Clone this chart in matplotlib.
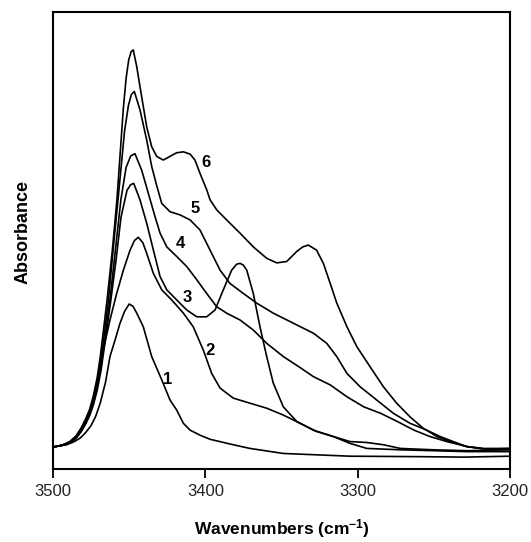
"""IR absorbance spectra, curves 1-6"""

import matplotlib
matplotlib.use("Agg")
import matplotlib.pyplot as plt

wn1 = [3500, 3491, 3486, 3482, 3478.5, 3475, 3472, 3469, 3465.5, 3462.6, 3459, 3456, 3453, 3450,
       3447.5, 3445, 3440.7, 3435.2, 3428.6, 3423.2, 3418.8, 3414.4, 3410, 3403.5, 3396.9, 3381.6,
       3370.7, 3348.8, 3305, 3260, 3230, 3200]
abs1 = [0.048, 0.053, 0.060, 0.068, 0.080, 0.095, 0.115, 0.144, 0.19, 0.246, 0.285, 0.319, 0.345,
        0.361, 0.356, 0.341, 0.311, 0.246, 0.195, 0.151, 0.129, 0.100, 0.085, 0.074, 0.065, 0.053,
        0.045, 0.034, 0.028, 0.027, 0.026, 0.028]

wn2 = [3500, 3494, 3489, 3485, 3481.5, 3478.5, 3476, 3473.5, 3471, 3467, 3462.6, 3458.2, 3453.8,
       3449.4, 3446.5, 3444, 3441, 3438.5, 3434.1, 3428.6, 3422.1, 3414.4, 3407.9, 3401.3, 3395.8,
       3390.3, 3381.6, 3370.7, 3359.7, 3348.8, 3337.8, 3326.9, 3315.9, 3305, 3294, 3283, 3272,
       3250, 3228, 3200]
abs2 = [0.048, 0.052, 0.057, 0.067, 0.082, 0.100, 0.122, 0.15, 0.19, 0.26, 0.326, 0.384, 0.435,
        0.479, 0.50, 0.507, 0.495, 0.472, 0.428, 0.392, 0.370, 0.341, 0.311, 0.260, 0.209,
        0.177, 0.155, 0.144, 0.133, 0.118, 0.100, 0.082, 0.071, 0.060, 0.058, 0.053, 0.045,
        0.042, 0.040, 0.042]

wn3 = [3500, 3494, 3489, 3485, 3481.5, 3478.5, 3476, 3473.5, 3471, 3468.5, 3465.5, 3462, 3458.5,
       3455.4, 3451.4, 3449, 3447, 3442.9, 3438.5, 3434.1, 3429.7, 3425.3, 3418.8, 3412.2, 3405.6,
       3399.1, 3393.6, 3388.2, 3382.7, 3379.5, 3377.2, 3375, 3372.8, 3368.5, 3364.1, 3359.7,
       3355.4, 3348.8, 3340, 3329.1, 3316, 3305, 3294, 3272, 3250, 3228, 3200]
abs3 = [0.048, 0.052, 0.058, 0.067, 0.082, 0.099, 0.116, 0.14, 0.172, 0.215, 0.285, 0.37, 0.46,
        0.55, 0.61, 0.622, 0.625, 0.589, 0.538, 0.479, 0.421, 0.392, 0.370, 0.348, 0.333,
        0.333, 0.348, 0.392, 0.435, 0.448, 0.450, 0.446, 0.435, 0.384, 0.311, 0.246,
        0.188, 0.136, 0.104, 0.085, 0.071, 0.056, 0.045, 0.042, 0.040, 0.038, 0.038]

wn4 = [3500, 3494, 3489, 3485, 3481.5, 3478.5, 3476, 3473.5, 3471, 3468.5, 3465.5, 3462.6, 3459,
       3455.4, 3452, 3449, 3446.2, 3441.8, 3437.4, 3433, 3429.7, 3425.3, 3418.8, 3412.2, 3405.6,
       3399.1, 3392.5, 3386, 3377.2, 3368.5, 3359.7, 3348.8, 3337.8, 3329, 3318, 3307, 3296,
       3285, 3274, 3263, 3252.5, 3241.5, 3228, 3215, 3200]
abs4 = [0.048, 0.052, 0.058, 0.068, 0.084, 0.102, 0.12, 0.145, 0.18, 0.225, 0.295, 0.37, 0.48,
        0.59, 0.66, 0.685, 0.69, 0.654, 0.603, 0.552, 0.516, 0.486, 0.465, 0.443, 0.414,
        0.384, 0.355, 0.341, 0.326, 0.304, 0.275, 0.246, 0.222, 0.202, 0.184, 0.158, 0.136,
        0.122, 0.104, 0.085, 0.071, 0.060, 0.049, 0.043, 0.043]

wn5 = [3500, 3494, 3489, 3485, 3481.5, 3478.5, 3476, 3473.5, 3471, 3469, 3466.5, 3463.6, 3460.5,
       3457.3, 3455, 3453, 3450.5, 3448.5, 3446.6, 3442.9, 3438.5, 3435.2, 3431.9, 3428.6, 3423.2,
       3416.6, 3410, 3403.5, 3396.9, 3390.3, 3383.8, 3375, 3366.3, 3355.4, 3342.2, 3329, 3320.3,
       3313.7, 3307, 3298.4, 3287.5, 3276.6, 3265.6, 3254.6, 3245.9, 3237.2, 3228.4, 3217.5, 3200]
abs5 = [0.048, 0.052, 0.059, 0.070, 0.087, 0.106, 0.125, 0.152, 0.19, 0.23, 0.29, 0.37, 0.48,
        0.59, 0.67, 0.74, 0.795, 0.82, 0.826, 0.786, 0.72, 0.662, 0.620, 0.581, 0.563,
        0.556, 0.545, 0.523, 0.479, 0.435, 0.406, 0.384, 0.363, 0.341, 0.319, 0.297, 0.275,
        0.246, 0.209, 0.180, 0.151, 0.122, 0.100, 0.085, 0.071, 0.060, 0.049, 0.045, 0.045]

wn6 = [3500, 3494, 3489, 3485, 3481.5, 3478.5, 3476, 3473.5, 3471, 3469, 3467, 3464.5, 3461, 3458,
       3455.8, 3453.8, 3452, 3450.3, 3448.7, 3447.3, 3445, 3442.9, 3440.7, 3438.5, 3435.2, 3431.9,
       3427.6, 3423.2, 3418.8, 3414.4, 3410, 3406.8, 3403.5, 3399.1, 3396.9, 3392.5, 3386, 3377.2,
       3368.5, 3359.7, 3353.1, 3346.6, 3340, 3336, 3332.4, 3327, 3322.5, 3318, 3313.7, 3307,
       3300.6, 3291.9, 3283.1, 3274.4, 3265.6, 3256.9, 3248, 3239.3, 3228.4, 3215, 3200]
abs6 = [0.048, 0.052, 0.060, 0.072, 0.090, 0.110, 0.130, 0.16, 0.20, 0.245, 0.30, 0.37, 0.48,
        0.59, 0.695, 0.79, 0.855, 0.895, 0.913, 0.917, 0.880, 0.837, 0.793, 0.749, 0.705,
        0.684, 0.676, 0.684, 0.692, 0.694, 0.689, 0.676, 0.647, 0.611, 0.589, 0.567, 0.545,
        0.516, 0.486, 0.461, 0.451, 0.454, 0.476, 0.486, 0.490, 0.479, 0.450, 0.406, 0.363,
        0.311, 0.268, 0.224, 0.180, 0.144, 0.114, 0.089, 0.071, 0.060, 0.049, 0.043, 0.045]

curve_names = ["1", "2", "3", "4", "5", "6"]
x_ticks = [3500, 3400, 3300, 3200]

plt.rcParams["font.family"] = ["Liberation Sans", "DejaVu Sans"]
plt.rcParams["mathtext.default"] = "regular"

fig = plt.figure(figsize=(5.31, 5.42), dpi=100)
ax = fig.add_axes([0.0998, 0.1347, 0.8606, 0.8432])

for wn, ab in [(wn1, abs1), (wn2, abs2), (wn3, abs3), (wn4, abs4), (wn5, abs5), (wn6, abs6)]:
    ax.plot(wn, ab, color="black", linewidth=1.2)

# curve numbers next to each trace
label_pos = [(3424.5, 0.195), (3396.9, 0.260), (3412.0, 0.376),
             (3416.6, 0.494), (3406.8, 0.571), (3399.5, 0.670)]
for name, (lx, ly) in zip(curve_names, label_pos):
    ax.text(lx, ly, name, fontsize=12, fontweight="bold", ha="center", va="center")

ax.set_xlim(3500, 3200)
ax.set_ylim(0, 1.0)
ax.set_xticks(x_ticks)
ax.set_xticklabels([str(t) for t in x_ticks])
ax.set_yticks([])
ax.tick_params(axis="x", direction="out", length=6.5, width=1.3, pad=4,
               labelsize=12, labelcolor="#222222")
for sp in ax.spines.values():
    sp.set_linewidth(1.5)

ax.set_xlabel("Wavenumbers (cm$^{-1}$)", fontsize=12.5, fontweight="bold")
ax.xaxis.set_label_coords(0.5, -0.105)
ax.set_ylabel("Absorbance", fontsize=13, fontweight="bold")
ax.yaxis.set_label_coords(-0.047, 0.519)

plt.savefig("out.png", dpi=100)
